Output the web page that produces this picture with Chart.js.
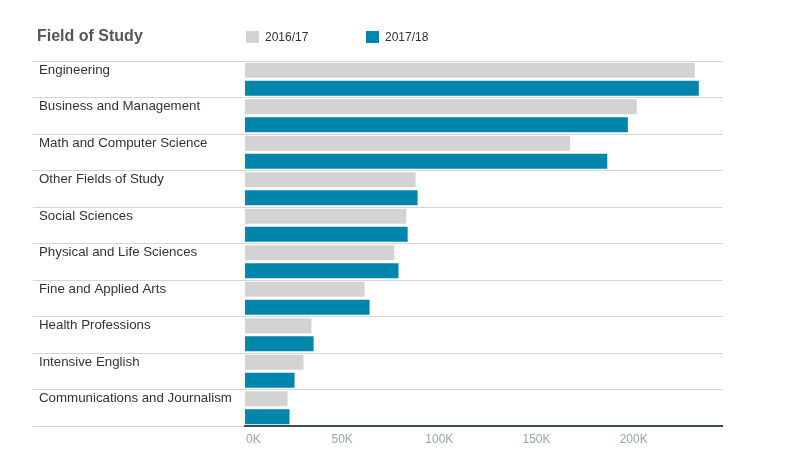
<!DOCTYPE html>
<html>
<head>
<meta charset="utf-8">
<script src="https://cdn.jsdelivr.net/npm/chart.js@4/dist/chart.umd.min.js"></script>
<style>
  html, body { margin: 0; padding: 0; background: #fff; }
  #wrap { position: relative; width: 799px; height: 455px; font-family: "Liberation Sans", Arial, sans-serif; }
  #c { position: absolute; left: 0; top: 0; }
  .title { position: absolute; left: 37px; top: 26px; font-size: 16px; font-weight: bold; color: #555; line-height: 20px; }
  .leg { position: absolute; top: 29px; font-size: 12px; color: #333; line-height: 16px; }
  .sw { position: absolute; top: 31px; width: 13px; height: 12px; }
</style>
</head>
<body>
<div id="wrap">
  <canvas id="c" width="799" height="455"></canvas>
  <div class="title">Field of Study</div>
  <div class="sw" style="left:246px;background:#d3d3d3"></div>
  <div class="leg" style="left:265px">2016/17</div>
  <div class="sw" style="left:366px;background:#0085ad"></div>
  <div class="leg" style="left:385px">2017/18</div>
</div>
<script>
const categories = [
  "Engineering",
  "Business and Management",
  "Math and Computer Science",
  "Other Fields of Study",
  "Social Sciences",
  "Physical and Life Sciences",
  "Fine and Applied Arts",
  "Health Professions",
  "Intensive English",
  "Communications and Journalism"
];
const seriesNames = ["2016/17", "2017/18"];
const values2016 = [231500, 201600, 167300, 87800, 83000, 76800, 61500, 34200, 30100, 21900];
const values2017 = [233500, 197000, 186400, 88800, 83700, 79000, 64100, 35300, 25500, 22900];
const tickValues = [0, 50000, 100000, 150000, 200000];
const axisMax = 245700;

const FONT = '"Liberation Sans", Arial, sans-serif';

const labelPlugin = {
  id: 'labelPlugin',
  afterDraw(chart) {
    const ctx = chart.ctx;
    const meta = chart.getDatasetMeta(0);
    ctx.save();
    ctx.font = '13.3px ' + FONT;
    ctx.fillStyle = '#333';
    ctx.textAlign = 'left';
    ctx.textBaseline = 'middle';
    categories.forEach((c, i) => {
      const bar = meta.data[i];
      ctx.fillText(c, 39, bar.y);
    });
    const xs = chart.scales.x;
    ctx.font = '12px ' + FONT;
    ctx.fillStyle = '#9aa4ab';
    tickValues.forEach((v, i) => {
      const px = xs.getPixelForValue(v);
      ctx.textAlign = i === 0 ? 'left' : 'center';
      ctx.fillText((v / 1000) + 'K', i === 0 ? px + 1 : px, 440);
    });
    ctx.restore();
  }
};

new Chart(document.getElementById('c'), {
  type: 'bar',
  data: {
    labels: categories,
    datasets: [
      { label: seriesNames[0], data: values2016, backgroundColor: '#d3d3d3', barPercentage: 0.833, categoryPercentage: 0.988 },
      { label: seriesNames[1], data: values2017, backgroundColor: '#0085ad', barPercentage: 0.833, categoryPercentage: 0.988 }
    ]
  },
  options: {
    indexAxis: 'y',
    responsive: false,
    animation: false,
    devicePixelRatio: 1,
    layout: { padding: { left: 33, right: 76.5, top: 61, bottom: 21 } },
    plugins: { legend: { display: false }, tooltip: { enabled: false }, title: { display: false } },
    scales: {
      x: {
        type: 'linear',
        position: 'bottom',
        min: 0,
        max: axisMax,
        afterBuildTicks(scale) { scale.ticks = tickValues.map(v => ({ value: v })); },
        ticks: { display: false },
        grid: { display: false },
        border: { display: true, color: '#3b4a55', width: 2 }
      },
      y: {
        type: 'category',
        position: 'left',
        offset: true,
        ticks: { display: false },
        grid: { display: true, offset: true, color: '#d6d6d6', lineWidth: 1, drawTicks: true, tickLength: 212, tickColor: '#d6d6d6' },
        border: { display: false },
        afterFit(scale) { scale.width = 212; }
      }
    }
  },
  plugins: [labelPlugin]
});
</script>
</body>
</html>
